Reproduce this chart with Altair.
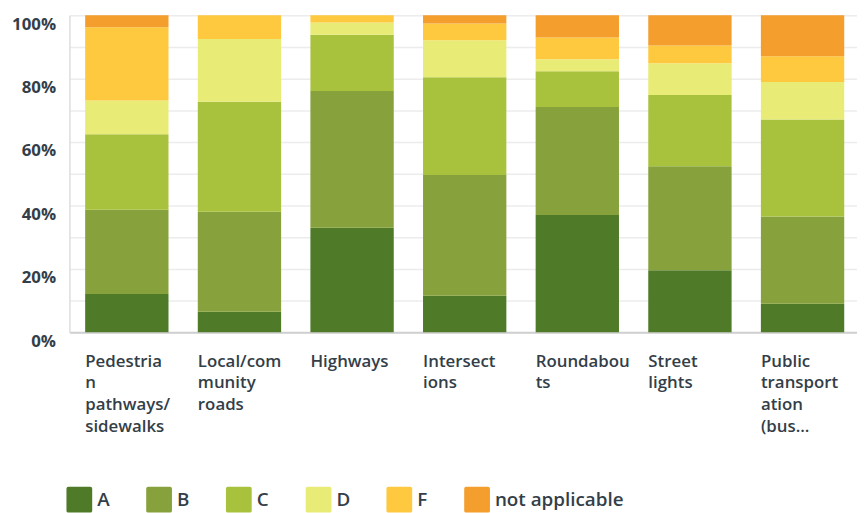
import altair as alt
import pandas as pd

categories = ["Pedestrian pathways/sidewalks", "Local/community roads", "Highways",
              "Intersections", "Roundabouts", "Street lights", "Public transportation (bus..."]
label_lines = ["Pedestria|n|pathways/|sidewalks", "Local/com|munity|roads", "Highways",
               "Intersect|ions", "Roundabou|ts", "Street|lights", "Public|transport|ation|(bus..."]
grades = ["A", "B", "C", "D", "F", "not applicable"]
colors = ["#4f7a28", "#87a23d", "#a8c23e", "#e8eb75", "#fec93f", "#f39e2d"]

A = [12.1, 6.5, 33.0, 11.5, 37.1, 19.6, 9.0]
B = [26.6, 31.6, 43.1, 38.1, 34.1, 32.8, 27.5]
C = [23.8, 34.7, 17.8, 30.9, 11.3, 22.5, 30.6]
D = [10.6, 19.8, 3.8, 11.6, 3.8, 10.0, 11.9]
F = [23.1, 7.5, 2.3, 5.3, 6.9, 5.6, 8.1]
NA = [3.8, 0.0, 0.0, 2.6, 7.0, 9.5, 12.9]

series = [A, B, C, D, F, NA]
rows = []
for gi, (g, vals) in enumerate(zip(grades, series)):
    for ci, cat in enumerate(categories):
        rows.append({"category": cat, "label": label_lines[ci], "grade": g,
                     "idx": gi, "value": vals[ci]})
df = pd.DataFrame(rows)

FONT = "Open Sans"
TXT = "#333e48"

rounded = ("M-0.85,-1 L0.85,-1 Q1,-1 1,-0.85 L1,0.85 Q1,1 0.85,1 L-0.85,1 "
           "Q-1,1 -1,0.85 L-1,-0.85 Q-1,-1 -0.85,-1 Z")

chart = alt.Chart(df).mark_bar().encode(
    x=alt.X("label:N", sort=label_lines, title=None,
            scale=alt.Scale(paddingInner=0.26, paddingOuter=0.1266, align=0.552),
            axis=alt.Axis(labelExpr="split(datum.value, '|')", labelAngle=0,
                          labelAlign="left", labelBaseline="top", labelOffset=-42,
                          labelPadding=21, ticks=False, tickSize=0,
                          labelFont=FONT, labelFontSize=17, labelFontWeight=600,
                          labelColor=TXT, labelLineHeight=22, labelLimit=300,
                          labelOverlap=False, labelFlush=False,
                          domainColor="#cfcfcf", domainWidth=2, grid=False)),
    y=alt.Y("value:Q", stack="normalize", title=None,
            scale=alt.Scale(domain=[0, 1], nice=False),
            axis=alt.Axis(values=[0, 0.1, 0.2, 0.3, 0.4, 0.5, 0.6, 0.7, 0.8, 0.9, 1.0],
                          labelExpr="round(datum.value*10) % 2 == 0 ? format(datum.value, '.0%') : ''",
                          labelBaseline="top", labelOffset=1, labelPadding=14,
                          ticks=False, tickSize=0,
                          labelFont=FONT, labelFontSize=17, labelFontWeight="bold",
                          labelColor=TXT, grid=True, gridColor="#ececec", gridWidth=1.5,
                          domainColor="#dddddd", domainWidth=1.5)),
    color=alt.Color("grade:N", scale=alt.Scale(domain=grades, range=colors),
                    legend=alt.Legend(title=None, orient="none", direction="horizontal",
                                      columns=6, legendX=-3, legendY=476,
                                      symbolType=rounded, symbolSize=676,
                                      symbolStrokeWidth=0, symbolOpacity=1,
                                      labelFont=FONT, labelFontSize=19,
                                      labelFontWeight=600, labelColor=TXT,
                                      labelOffset=5, columnPadding=36.5, padding=0,
                                      labelLimit=300)),
    order=alt.Order("idx:Q", sort="ascending"),
).properties(
    width=795, height=320,
    autosize=alt.AutoSizeParams(type="none"),
    padding={"left": 62, "top": 5, "right": 0, "bottom": 180},
).configure_view(stroke=None)

chart.save("out.html", embed_options={"renderer": "svg", "actions": False})
